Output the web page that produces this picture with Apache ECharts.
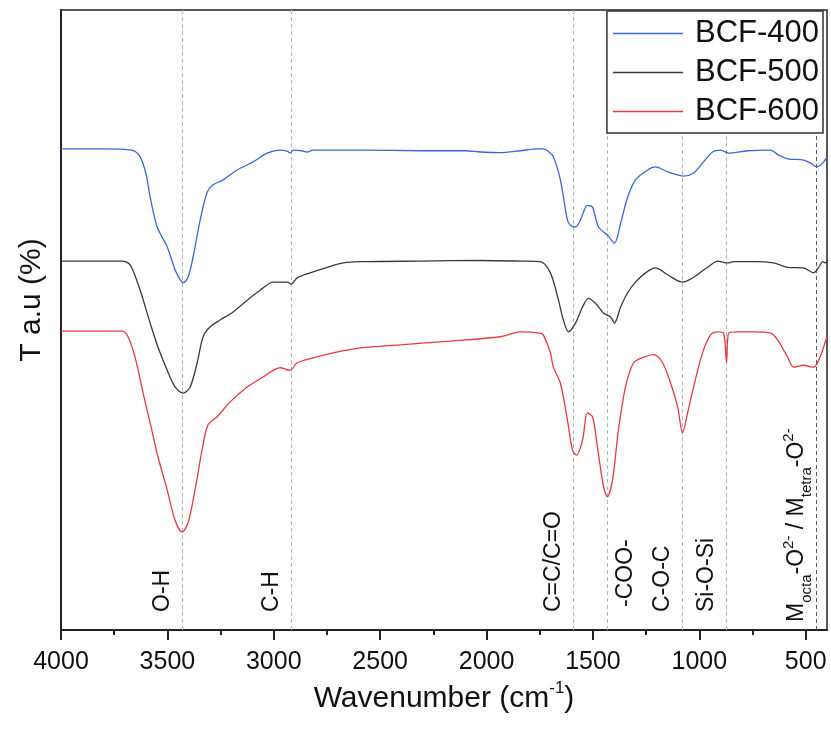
<!DOCTYPE html>
<html><head><meta charset="utf-8">
<script src="https://cdn.jsdelivr.net/npm/echarts@6/dist/echarts.min.js"></script>
<style>html,body{margin:0;padding:0;background:#fff}#c{width:831px;height:731px}</style>
</head><body><div id="c"></div>
<script>
const seriesNames = ['BCF-400', 'BCF-500', 'BCF-600'];
const seriesColors = ['#3a66d6', '#3a3a3a', '#e63a40'];

// [wavenumber (cm-1), transmittance (a.u.)]
const bcf400 = [[4000,77.6],[3800,77.6],[3667,77.4],[3628,76.3],[3600,73.5],[3581,69.8],[3548,65.0],[3501,61.8],[3464,58.1],[3440,56.5],[3426,56.0],[3403,56.9],[3379,60.2],[3346,66.1],[3313,70.6],[3285,71.8],[3238,72.6],[3172,74.2],[3097,75.5],[3031,76.9],[2970,77.4],[2935,77.2],[2923,76.9],[2909,77.4],[2870,77.3],[2843,77.1],[2815,77.4],[2593,77.4],[2311,77.3],[2100,77.3],[2029,77.1],[1935,77.0],[1841,77.3],[1760,77.6],[1733,77.6],[1710,77.2],[1686,76.3],[1653,72.6],[1620,66.1],[1606,65.3],[1582,65.0],[1559,66.1],[1526,68.5],[1502,68.2],[1474,65.0],[1432,63.7],[1399,62.4],[1370,65.6],[1337,69.8],[1300,72.6],[1243,74.2],[1206,74.7],[1149,73.9],[1102,73.4],[1074,73.2],[1027,73.7],[985,75.3],[938,77.1],[900,77.4],[862,76.9],[773,77.3],[665,77.4],[627,76.6],[585,76.0],[510,75.8],[477,75.3],[448,74.7],[420,75.3],[400,76.3]];
const bcf500 = [[4000,59.5],[3713,59.5],[3675,58.9],[3628,54.8],[3581,49.5],[3544,45.6],[3501,41.9],[3464,39.2],[3426,38.2],[3393,39.2],[3360,43.1],[3332,47.3],[3299,48.9],[3252,50.0],[3191,51.3],[3125,53.2],[3064,54.8],[3003,56.1],[2937,56.1],[2918,55.8],[2890,56.8],[2829,57.6],[2749,58.5],[2673,59.2],[2593,59.4],[2311,59.5],[2029,59.6],[1841,59.5],[1747,59.4],[1700,57.6],[1662,53.2],[1639,50.0],[1615,48.1],[1582,49.5],[1549,52.1],[1521,53.5],[1488,52.7],[1450,51.1],[1417,50.5],[1399,49.5],[1370,52.1],[1337,54.4],[1300,56.1],[1253,57.6],[1206,58.4],[1149,57.3],[1079,56.1],[1027,56.9],[961,58.5],[914,59.5],[867,59.2],[839,59.4],[745,59.4],[651,59.2],[585,58.5],[510,58.4],[463,57.6],[439,58.5],[420,59.4],[406,59.2],[400,59.7]];
const bcf600 = [[4000,48.2],[3713,48.2],[3685,47.3],[3652,44.0],[3614,38.2],[3581,33.4],[3544,27.9],[3501,22.6],[3464,17.7],[3431,15.8],[3403,17.3],[3370,22.6],[3337,29.0],[3309,33.1],[3266,34.4],[3205,36.8],[3125,39.2],[3050,40.8],[2970,42.3],[2923,41.9],[2890,43.1],[2815,43.9],[2720,44.7],[2593,45.5],[2405,46.0],[2170,46.6],[1935,47.3],[1841,48.1],[1747,47.9],[1733,47.6],[1700,44.7],[1686,42.4],[1653,39.8],[1620,33.9],[1596,29.0],[1577,28.2],[1549,30.6],[1526,35.0],[1502,34.4],[1479,29.5],[1450,23.1],[1432,21.5],[1408,24.2],[1380,32.3],[1347,39.2],[1309,43.1],[1262,44.0],[1215,44.4],[1173,43.1],[1135,39.8],[1102,36.0],[1079,31.8],[1055,35.0],[1027,39.2],[985,44.7],[947,47.6],[914,48.1],[886,47.9],[872,43.1],[862,47.9],[820,48.1],[745,48.1],[665,47.9],[632,46.8],[585,44.0],[557,42.4],[510,42.7],[463,42.4],[439,43.5],[400,47.3]];

const majorTicks = [4000, 3500, 3000, 2500, 2000, 1500, 1000, 500];
const minorTicks = [3750, 3250, 2750, 2250, 1750, 1250, 750];
const bandPositions = [3432, 2918, 1592, 1432, 1079, 872, 449];
const bandLabels = ['O-H', 'C-H', 'C=C/C=O', '-COO-', 'C-O-C', 'Si-O-Si',
  '{b|M}{s|octa}{b|-O}{p|2-}{b| / M}{s|tetra}{b|-O}{p|2-}'];

const FONT = '"Liberation Sans", Arial, Helvetica, sans-serif';

const chart = echarts.init(document.getElementById('c'), null, {renderer: 'canvas'});

const markData = bandPositions.map((x, i) => ({
  xAxis: x,
  lineStyle: {color: i === 6 ? '#555' : '#b5b5b5', type: [4, 3], width: 1},
  label: {
    show: true,
    formatter: bandLabels[i],
    position: i === 3 ? 'insideStartBottom' : 'insideStartTop',
    distance: i === 3 ? [23, 7] : (i === 6 ? [8, 8] : [18, 8]),
    fontSize: 23,
    color: '#111',
    fontFamily: FONT,
    rich: {
      b: {fontSize: 23, color: '#111', fontFamily: FONT},
      s: {fontSize: 15, color: '#111', fontFamily: FONT, verticalAlign: 'bottom', padding: [0, 0, -6, 0]},
      p: {fontSize: 15, color: '#111', fontFamily: FONT, verticalAlign: 'top', padding: [-4, 0, 0, 0]}
    }
  }
}));

const series = [bcf400, bcf500, bcf600].map((d, i) => ({
  name: seriesNames[i],
  type: 'line',
  data: d,
  symbol: 'none',
  showSymbol: false,
  smooth: 0.3,
  lineStyle: {color: seriesColors[i], width: 1.3},
  itemStyle: {color: seriesColors[i]},
  z: 3
}));
series[0].markLine = {silent: true, symbol: ['none', 'none'], data: markData, animation: false, z: 1};

chart.setOption({
  animation: false,
  backgroundColor: '#fff',
  grid: {left: 61, right: 4, top: 10, bottom: 101, show: true, borderColor: '#222', borderWidth: 1.5, backgroundColor: 'transparent'},
  legend: {
    orient: 'vertical', right: 8, top: 11,
    data: seriesNames,
    icon: 'rect',
    borderColor: '#333', borderWidth: 1.5, backgroundColor: '#fff',
    padding: [7, 4, 6, 6],
    itemWidth: 70, itemHeight: 1.5, itemGap: 8,
    textStyle: {fontSize: 31, color: '#111', fontFamily: FONT, padding: [0, 0, 0, 7]}
  },
  xAxis: [{
    type: 'value', min: 400, max: 4000, inverse: true,
    axisLine: {show: true, lineStyle: {color: '#222', width: 2}},
    axisTick: {show: true, customValues: majorTicks, length: 10, lineStyle: {color: '#222', width: 2}},
    axisLabel: {show: true, customValues: majorTicks, fontSize: 25, color: '#111', margin: 20, fontFamily: FONT,
      formatter: v => String(v)},
    splitLine: {show: false},
    name: '{a|Wavenumber (cm}{s|-1}{a|)}',
    nameLocation: 'middle', nameGap: 54,
    nameTextStyle: {
      rich: {
        a: {fontSize: 30, color: '#111', fontFamily: FONT},
        s: {fontSize: 17, color: '#111', fontFamily: FONT, verticalAlign: 'top', padding: [-4, 0, 0, 0]}
      }
    }
  }, {
    type: 'value', min: 400, max: 4000, inverse: true, position: 'top', offset: -620,
    axisLine: {show: false},
    axisTick: {show: true, inside: true, customValues: minorTicks, length: 5, lineStyle: {color: '#222', width: 2}},
    axisLabel: {show: false},
    splitLine: {show: false}
  }],
  yAxis: {
    type: 'value', min: 0, max: 100,
    axisLine: {show: true, lineStyle: {color: '#222', width: 2}},
    axisTick: {show: false}, axisLabel: {show: false}, splitLine: {show: false}
  },
  graphic: [{
    type: 'text', x: 32, y: 300, rotation: Math.PI / 2,
    style: {text: 'T a.u (%)', font: '30px ' + FONT, fill: '#111', textAlign: 'center', textVerticalAlign: 'middle'}
  }],
  series: series
});
</script></body></html>
